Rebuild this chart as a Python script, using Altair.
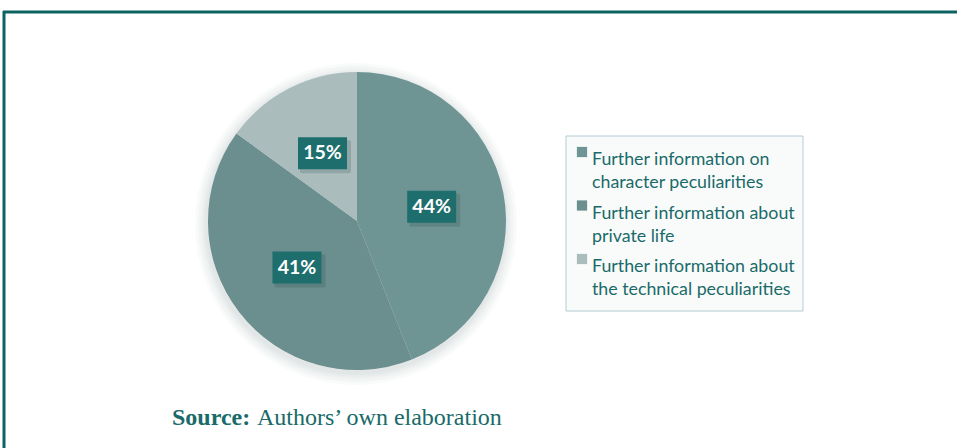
import altair as alt
import pandas as pd

# ---- data ----
categories = [
    "Further information on character peculiarities",
    "Further information about private life",
    "Further information about the technical peculiarities",
]
legend_text = [
    "Further information on\ncharacter peculiarities",
    "Further information about\nprivate life",
    "Further information about\nthe technical peculiarities",
]
shares = [44, 41, 15]
share_labels = ["44%", "41%", "15%"]
colors = ["#6f9494", "#6b8e8e", "#aabcbc"]
source_bold = "Source:"
source_rest = "Authors\u2019 own elaboration"

df = pd.DataFrame({
    "category": categories,
    "legend": legend_text,
    "share": shares,
    "label": share_labels,
    "idx": list(range(len(categories))),
})

CX, CY, R = 357, 221, 149
LR = 76
TEAL = "#196a69"
color_scale = alt.Scale(domain=categories, range=colors)

base = alt.Chart(df)

# soft glow around pie
glow_df = pd.DataFrame({"k": [0]})
glows = [
    alt.Chart(glow_df).mark_arc(radius=R + d, theta=0, theta2=6.2832, color="#7f9595", opacity=0.045)
    .encode(x=alt.value(CX - 1), y=alt.value(CY + 3))
    for d in (12, 9, 6, 4, 2)
]

pie = base.mark_arc(radius=R, stroke=None).encode(
    theta=alt.Theta("share:Q", stack=True),
    order=alt.Order("idx:Q"),
    color=alt.Color("category:N", scale=color_scale, legend=None),
    x=alt.value(CX),
    y=alt.value(CY),
)

pos = base.transform_joinaggregate(
    total="sum(share)"
).transform_window(
    cum="sum(share)", sort=[alt.SortField("idx")], frame=[None, 0]
).transform_calculate(
    mid="(datum.cum - datum.share / 2) / datum.total * 2 * PI",
).transform_calculate(
    lx=f"{CX} + {LR} * sin(datum.mid)",
    ly=f"{CY} - {LR} * cos(datum.mid)",
).transform_calculate(
    bx1="datum.lx - 24.5", bx2="datum.lx + 24.5",
    by1="datum.ly - 16", by2="datum.ly + 16",
    sx1="datum.lx - 22.5", sx2="datum.lx + 28.5",
    sy1="datum.ly - 13", sy2="datum.ly + 20",
)

box_shadow = pos.mark_rect(color="#1c3c3c", opacity=0.18, cornerRadius=2).encode(
    x=alt.X("sx1:Q", scale=None), x2="sx2:Q",
    y=alt.Y("sy1:Q", scale=None), y2="sy2:Q",
)
boxes = pos.mark_rect(color="#1f6e6e").encode(
    x=alt.X("bx1:Q", scale=None), x2="bx2:Q",
    y=alt.Y("by1:Q", scale=None), y2="by2:Q",
)
label_text = pos.mark_text(
    font="Lato", fontWeight="bold", fontSize=19.5, color="white", baseline="middle", align="center"
).encode(
    x=alt.X("lx:Q", scale=None),
    y=alt.Y("ly:Q", scale=None),
    text="label:N",
)

# legend box
legend_frame = alt.Chart(glow_df).mark_rect(fill="#f9fbfb", stroke="#b3ccd3", strokeWidth=1).encode(
    x=alt.value(566), x2=alt.value(803), y=alt.value(136), y2=alt.value(311)
)
legend_sq = base.mark_square(size=105, opacity=1).encode(
    x=alt.value(582),
    y=alt.Y("category:N", sort=categories, axis=None,
            scale=alt.Scale(type="point", range=[152, 259], padding=0)),
    color=alt.Color("category:N", scale=color_scale, legend=None),
)
legend_lbl = base.mark_text(
    font="Lato", fontSize=17.8, color=TEAL, align="left", baseline="middle",
    lineBreak="\n", lineHeight=23,
).encode(
    x=alt.value(592),
    y=alt.Y("category:N", sort=categories, axis=None,
            scale=alt.Scale(type="point", range=[160, 267], padding=0)),
    text="legend:N",
)

# source caption
src_df = pd.DataFrame({"t": [source_bold], "r": [source_rest]})
src_b = alt.Chart(src_df).mark_text(
    font="Liberation Serif", fontWeight="bold", fontSize=24, color=TEAL, align="left", baseline="alphabetic"
).encode(x=alt.value(172), y=alt.value(425), text="t:N")
src_r = alt.Chart(src_df).mark_text(
    font="Liberation Serif", fontSize=24, color=TEAL, align="left", baseline="alphabetic"
).encode(x=alt.value(257), y=alt.value(425), text="r:N")

# frame
frame_top = alt.Chart(glow_df).mark_rule(color="#0b6362", strokeWidth=3).encode(
    x=alt.value(3), x2=alt.value(957), y=alt.value(12)
)
frame_left = alt.Chart(glow_df).mark_rule(color="#0b6362", strokeWidth=3).encode(
    x=alt.value(4), y=alt.value(11), y2=alt.value(448)
)

chart = alt.layer(
    *glows, pie, box_shadow, boxes, label_text,
    legend_frame, legend_sq, legend_lbl, src_b, src_r, frame_top, frame_left,
).resolve_scale(y="independent", x="independent").properties(
    width=957, height=448, autosize=alt.AutoSizeParams(type="none"), padding=0,
    background="white",
).configure_view(stroke=None)

chart.save("out.html", embed_options={"renderer": "svg", "actions": False})
